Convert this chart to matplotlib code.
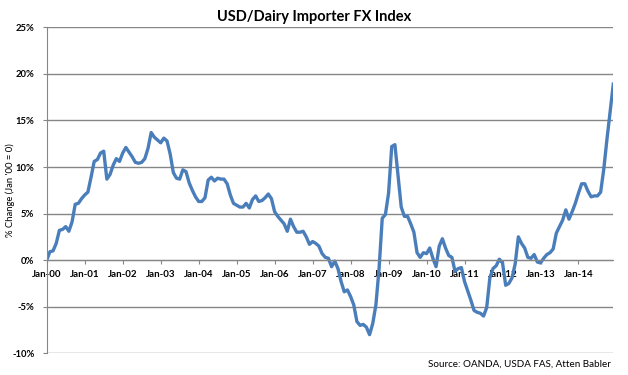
import matplotlib
matplotlib.use('Agg')
import matplotlib.pyplot as plt
import numpy as np
import pandas as pd

plt.rcParams['font.family'] = ['Lato', 'DejaVu Sans']

# Monthly index values (% change vs Jan '00)
y2000 = [0.0, 0.9, 1.0, 1.8, 3.2, 3.3, 3.6, 3.1, 4.1, 6.0, 6.1, 6.6]
y2001 = [7.0, 7.3, 8.9, 10.6, 10.8, 11.5, 11.7, 8.7, 9.2, 10.2, 10.9, 10.6]
y2002 = [11.5, 12.1, 11.6, 11.1, 10.5, 10.4, 10.5, 10.9, 12.0, 13.7, 13.2, 12.9]
y2003 = [12.6, 13.1, 12.8, 11.4, 9.4, 8.8, 8.7, 9.7, 9.5, 8.3, 7.5, 6.8]
y2004 = [6.3, 6.3, 6.7, 8.6, 8.9, 8.5, 8.8, 8.7, 8.7, 8.2, 7.0, 6.1]
y2005 = [5.9, 5.7, 5.7, 6.1, 5.6, 6.5, 6.9, 6.3, 6.4, 6.7, 7.1, 6.6]
y2006 = [5.2, 4.7, 4.3, 3.9, 3.1, 4.4, 3.6, 3.0, 3.0, 3.1, 2.5, 1.7]
y2007 = [2.0, 1.8, 1.5, 0.7, 0.3, 0.2, -0.7, -0.1, -0.9, -2.3, -3.4, -3.2]
y2008 = [-3.9, -4.8, -6.6, -7.0, -6.9, -7.2, -8.0, -6.8, -4.8, -0.9, 4.5, 4.9]
y2009 = [7.2, 12.2, 12.4, 9.1, 5.7, 4.7, 4.7, 3.9, 3.0, 0.8, 0.3, 0.8]
y2010 = [0.7, 1.3, 0.2, -0.7, 1.5, 2.3, 1.3, 0.5, 0.3, -1.2, -0.9, -0.8]
y2011 = [-2.3, -3.3, -4.3, -5.4, -5.6, -5.7, -6.0, -5.1, -1.9, -0.9, -0.6, 0.1]
y2012 = [-0.3, -2.7, -2.5, -1.9, -0.4, 2.5, 1.8, 1.3, 0.3, 0.2, 0.6, -0.2]
y2013 = [-0.3, 0.2, 0.6, 0.8, 1.2, 2.9, 3.6, 4.3, 5.4, 4.4, 5.2, 6.1]
y2014 = [7.2, 8.2, 8.2, 7.4, 6.8, 6.9, 6.9, 7.3, 9.8, 13.0, 16.0, 18.9]

values = (y2000 + y2001 + y2002 + y2003 + y2004 + y2005 + y2006 + y2007
          + y2008 + y2009 + y2010 + y2011 + y2012 + y2013 + y2014)
months = pd.date_range('2000-01-01', periods=len(values), freq='MS')
yticks = [-10, -5, 0, 5, 10, 15, 20, 25]

grey = '#868686'

fig = plt.figure(figsize=(6.28, 3.75), dpi=100)
ax = fig.add_axes([0.0744, 0.0579, 0.9022, 0.8693])

# x axis sits on the 0% line (set first: set_position resets the ticks)
ax.spines['bottom'].set_position(('data', 0))
for s in ['top', 'right']:
    ax.spines[s].set_visible(False)
ax.spines['left'].set_color(grey)
ax.spines['bottom'].set_color(grey)

x = np.arange(len(values))
ax.plot(x, values, color='#4A7EBB', lw=2.4, solid_joinstyle='round')

ax.set_xlim(0, len(values) - 1)
ax.set_ylim(-10, 25)

# yearly ticks, Excel-style labels
xt = x[::12]
ax.set_xticks(xt)
ax.set_xticklabels([d.strftime('%b-%y') for d in months[::12]],
                   fontsize=7, fontweight='bold')
ax.set_yticks(yticks)
ax.set_yticklabels(['%d%%' % v for v in yticks], fontsize=6.8, fontweight='bold')

ax.grid(axis='y', color=grey, lw=1)
ax.set_axisbelow(True)
ax.tick_params(axis='x', colors=grey, length=3, pad=4, labelcolor='black')
ax.tick_params(axis='y', colors=grey, length=3, pad=6, labelcolor='black')

fig.text(0.016, 0.493, "% Change (Jan '00 = 0)", rotation=90, ha='center',
         va='center', fontsize=6.8)
fig.text(0.5, 0.955, 'USD/Dairy Importer FX Index', ha='center', va='center',
         fontsize=10.5, fontweight='bold')
fig.text(0.973, 0.03, 'Source: OANDA, USDA FAS, Atten Babler', ha='right',
         va='center', fontsize=7.1)

fig.savefig('out.png', dpi=100)
